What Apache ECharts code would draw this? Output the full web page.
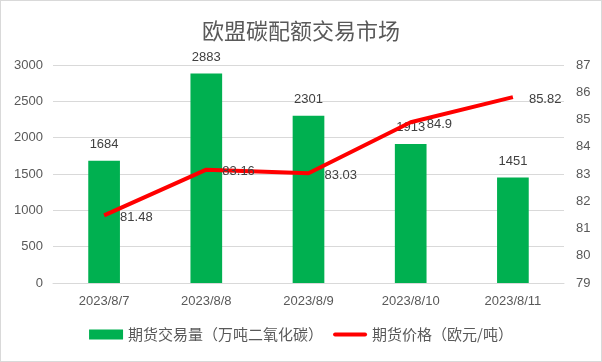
<!DOCTYPE html>
<html><head><meta charset="utf-8">
<script src="https://cdn.jsdelivr.net/npm/echarts@6/dist/echarts.min.js"></script>
<style>html,body{margin:0;padding:0;background:#fff}#c{width:600px;height:360px;border:1px solid #d9d9d9}</style>
</head><body><div id="c"></div>
<script>
const categories = ['2023/8/7','2023/8/8','2023/8/9','2023/8/10','2023/8/11'];
const volume = [1684, 2883, 2301, 1913, 1451];
const price = [81.48, 83.16, 83.03, 84.9, 85.82];
const volumeName = '期货交易量（万吨二氧化碳）';
const priceName = '期货价格（欧元/吨）';
const titleText = '欧盟碳配额交易市场';
const font = '"Noto Sans CJK SC", "Microsoft YaHei", sans-serif';
const chart = echarts.init(document.getElementById('c'));
chart.setOption({
  animation: false,
  title: {text: titleText, left: 'center', top: 14, textStyle: {fontFamily: font, fontSize: 22, fontWeight: 'normal', color: '#595959'}},
  grid: {left: 52, right: 37, top: 64, bottom: 78},
  legend: {bottom: 14, itemGap: 10, itemWidth: 34, itemHeight: 10, textStyle: {fontFamily: font, fontSize: 15, color: '#595959'},
    data: [{name: volumeName, icon: 'rect'},
           {name: priceName, icon: 'path://M2,0 L32,0 A2,2 0 0 1 32,4 L2,4 A2,2 0 0 1 2,0 Z'}]},
  xAxis: {type: 'category', data: categories,
    axisLine: {lineStyle: {color: '#d9d9d9'}}, axisTick: {show: false},
    axisLabel: {color: '#595959', fontSize: 13, margin: 12}},
  yAxis: [
    {type: 'value', min: 0, max: 3000, interval: 500,
     axisLine: {show: false}, axisTick: {show: false},
     axisLabel: {color: '#595959', fontSize: 13, margin: 10, formatter: v => String(v)},
     splitLine: {lineStyle: {color: '#d9d9d9'}}},
    {type: 'value', min: 79, max: 87, interval: 1,
     axisLine: {show: false}, axisTick: {show: false},
     axisLabel: {color: '#595959', fontSize: 13, margin: 12},
     splitLine: {show: false}}
  ],
  series: [
    {name: volumeName, type: 'bar', data: volume, barWidth: '31%', itemStyle: {color: '#00B050'},
     label: {show: true, position: 'top', distance: 10, color: '#404040', fontSize: 13}},
    {name: priceName, type: 'line', yAxisIndex: 1, data: price, symbol: 'circle', symbolSize: 0.01,
     lineStyle: {color: '#FF0000', width: 4}, itemStyle: {color: '#FF0000'},
     label: {show: true, position: 'right', distance: 16, offset: [0, 2], color: '#404040', fontSize: 13}}
  ]
});
</script></body></html>
